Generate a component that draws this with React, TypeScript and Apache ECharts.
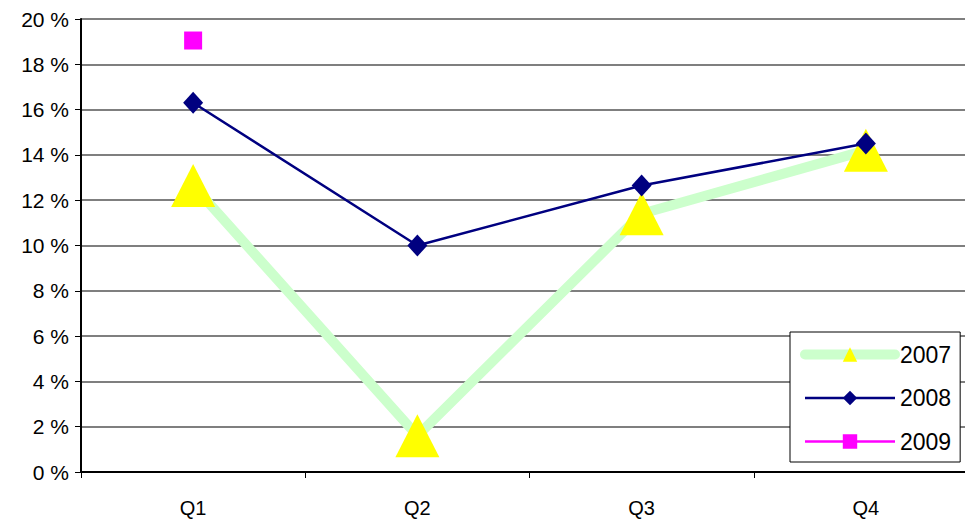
import React, { useEffect, useRef } from "react";
import * as echarts from "echarts";

const categories = ["Q1", "Q2", "Q3", "Q4"];
const s2007 = [12.65, 1.6, 11.4, 14.2];
const s2008 = [16.3, 10.0, 12.65, 14.5];
const s2009: (number | null)[] = [19.05, null, null, null];
const yTicks = [0, 2, 4, 6, 8, 10, 12, 14, 16, 18, 20];

export default function App() {
  const ref = useRef<HTMLDivElement>(null);
  useEffect(() => {
    if (!ref.current) return;
    const chart = echarts.init(ref.current, null, { renderer: "svg" });
    const font = "'Liberation Sans', Arial, sans-serif";
    chart.setOption({
      animation: false,
      backgroundColor: "#ffffff",
      textStyle: { fontFamily: font },
      grid: { left: 81, top: 19, width: 897, height: 453, containLabel: false },
      legend: {
        orient: "vertical",
        left: 790,
        top: 332,
        backgroundColor: "#ffffff",
        borderColor: "#000000",
        borderWidth: 1,
        borderRadius: 0,
        padding: [11, 9, 9, 10],
        itemWidth: 90,
        itemHeight: 18,
        itemGap: 20.5,
        textStyle: { fontSize: 23, lineHeight: 23, color: "#000", fontFamily: font },
        data: [
          { name: "2007", lineStyle: { width: 10, cap: "round", color: "#CCFFCC" } },
          { name: "2008", lineStyle: { width: 2.5, color: "#000080" } },
          { name: "2009", lineStyle: { width: 2.5, color: "#FF00FF" } },
        ],
      },
      xAxis: {
        type: "category",
        data: categories,
        boundaryGap: true,
        axisLine: { lineStyle: { color: "#000", width: 2 } },
        axisTick: { show: true, length: 6, inside: false, lineStyle: { color: "#000" } },
        axisLabel: { fontSize: 20, color: "#000", margin: 26, fontFamily: font },
        splitLine: { show: false },
      },
      yAxis: {
        type: "value",
        min: 0,
        max: 20,
        interval: 2,
        axisLine: { show: true, lineStyle: { color: "#000", width: 2 } },
        axisTick: { show: true, length: 6, lineStyle: { color: "#000" } },
        axisLabel: {
          fontSize: 21,
          color: "#000",
          margin: 12,
          fontFamily: font,
          formatter: (v: number) => (yTicks.includes(v) ? `${v} %` : ""),
        },
        splitLine: { show: true, lineStyle: { color: "#555", width: 1.5 } },
      },
      series: [
        {
          name: "2007",
          type: "line",
          data: s2007,
          lineStyle: { color: "#CCFFCC", width: 10 },
          itemStyle: { color: "#FFFF00" },
          symbol: "triangle",
          symbolSize: [44, 43],
          z: 2,
        },
        {
          name: "2008",
          type: "line",
          data: s2008,
          lineStyle: { color: "#000080", width: 2.5 },
          itemStyle: { color: "#000080" },
          symbol: "diamond",
          symbolSize: [20, 22],
          z: 3,
        },
        {
          name: "2009",
          type: "line",
          data: s2009,
          lineStyle: { color: "#FF00FF", width: 2.5 },
          itemStyle: { color: "#FF00FF" },
          symbol: "rect",
          symbolSize: 18,
          showAllSymbol: true,
          z: 4,
        },
      ],
    });
    return () => chart.dispose();
  }, []);
  return (
    <div style={{ width: 965, height: 525, position: "absolute", left: 0, top: 0, overflow: "hidden" }}>
      <div ref={ref} style={{ width: 990, height: 525 }} />
    </div>
  );
}
